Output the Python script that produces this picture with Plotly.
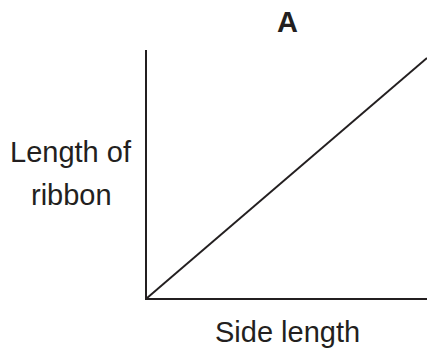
import plotly.graph_objs as go

# Data
side_length = [0, 1]
ribbon_length = [0, 0.968]

title_text = 'A'
x_label = 'Side length'
y_label_lines = ['Length of', 'ribbon']

font = 'Liberation Sans, Arial, sans-serif'
ink = '#231f20'

data = [
    go.Scatter(x=side_length, y=ribbon_length, mode='lines',
               line=dict(color=ink, width=2), cliponaxis=False,
               hoverinfo='skip')
]

# text labels, placed around the plot area
label_font = dict(family=font, size=29, color=ink)
annotations = [
    dict(text='<b>' + title_text + '</b>', x=0.5, y=1, yshift=28),
    dict(text=x_label, x=0.5, y=0, yshift=-34),
    dict(text=y_label_lines[0], x=0, y=0.589, xshift=-76),
    dict(text=y_label_lines[1], x=0, y=0.415, xshift=-76),
]
for a in annotations:
    a.update(xref='paper', yref='paper', xanchor='center', yanchor='middle',
             showarrow=False, font=label_font)

layout = go.Layout(
    width=427, height=351,
    margin=dict(l=147, r=0, t=50, b=53),
    paper_bgcolor='white', plot_bgcolor='white',
    showlegend=False,
    xaxis=dict(range=[0, 1], showline=True, linecolor=ink, linewidth=2,
               showgrid=False, zeroline=False, showticklabels=False, ticks=''),
    yaxis=dict(range=[0, 1], showline=True, linecolor=ink, linewidth=2,
               showgrid=False, zeroline=False, showticklabels=False, ticks=''),
    annotations=annotations,
)

fig = go.Figure(data=data, layout=layout)
fig.write_html('out.html', config={'displayModeBar': False},
               post_script="document.body.style.margin='0';"
                           "document.body.style.overflow='hidden';")
